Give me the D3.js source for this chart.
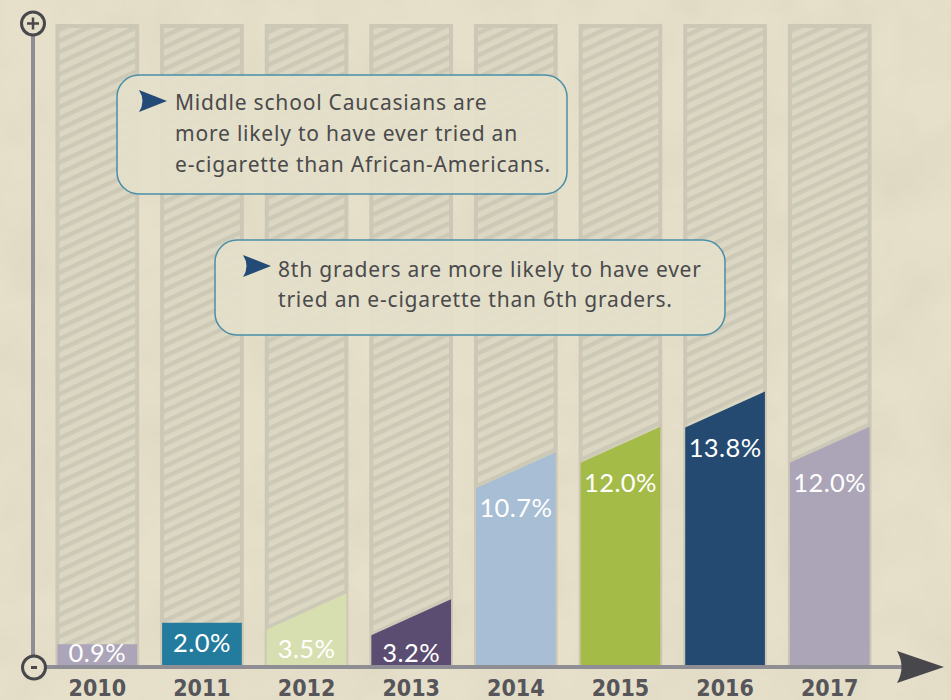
<!DOCTYPE html>
<html>
<head>
<meta charset="utf-8">
<script src="https://cdn.jsdelivr.net/npm/d3@7"></script>
<style>
  html, body { margin: 0; padding: 0; background: #e5dfc9; }
  svg { display: block; }
</style>
</head>
<body>
<div id="chart"></div>
<script>
// data
const years = ["2010", "2011", "2012", "2013", "2014", "2015", "2016", "2017"];
const values = [0.9, 2.0, 3.5, 3.2, 10.7, 12.0, 13.8, 12.0];
const barColors = ["#aca4b8", "#237b9d", "#d7dfb0", "#5b4c72", "#a7bed4", "#a4bb48", "#244a72", "#aca4b7"];
const flatYears = ["2010", "2011"];
const notes = [
    ["Middle school Caucasians are", "more likely to have ever tried an", "e-cigarette than African-Americans."],
    ["8th graders are more likely to have ever", "tried an e-cigarette than 6th graders."]
];

const width = 951, height = 700;
const baseY = 667, topY = 24, slant = 36;

const svg = d3.select("#chart")
    .append("svg")
    .attr("width", width)
    .attr("height", height);

const defs = svg.append("defs");

// paper texture
const paper = defs.append("filter")
    .attr("id", "paper")
    .attr("x", 0).attr("y", 0).attr("width", "100%").attr("height", "100%");
paper.append("feTurbulence")
    .attr("type", "fractalNoise")
    .attr("baseFrequency", 0.015)
    .attr("numOctaves", 3)
    .attr("seed", 4);
paper.append("feColorMatrix")
    .attr("values", "0 0 0 0 0.55  0 0 0 0 0.5  0 0 0 0 0.38  0 0 0 0.35 -0.12");

svg.append("rect")
    .attr("width", width)
    .attr("height", height)
    .attr("fill", "#e6e0cb");

svg.append("rect")
    .attr("width", width)
    .attr("height", height)
    .attr("filter", "url(#paper)");

// hatch pattern for the empty columns
const pat = defs.append("pattern")
    .attr("id", "hatch")
    .attr("patternUnits", "userSpaceOnUse")
    .attr("width", 10)
    .attr("height", 10)
    .attr("patternTransform", "rotate(-25)");
pat.append("rect").attr("width", 10).attr("height", 10).attr("fill", "#dcd7c3");
pat.append("rect").attr("width", 10).attr("height", 4.5).attr("fill", "#cdc9b7");

// scales
const x = d3.scaleBand()
    .domain(years)
    .range([45, 882])
    .paddingInner(0.2)
    .paddingOuter(0.1);

const y = d3.scaleLinear()
    .domain([0, 14])
    .range([662, 387.6]);

// background columns
const cols = svg.append("g").selectAll("g")
    .data(years)
    .join("g");

cols.append("rect")
    .attr("x", d => x(d))
    .attr("y", topY)
    .attr("width", x.bandwidth())
    .attr("height", baseY - topY)
    .attr("fill", "#ccc8b5");

cols.append("rect")
    .attr("x", d => x(d) + 4)
    .attr("y", topY + 4)
    .attr("width", x.bandwidth() - 8)
    .attr("height", baseY - topY - 4)
    .attr("fill", "url(#hatch)");

// coloured bars with slanted tops
const bars = years.map((yr, i) => {
    const x0 = x(yr) + 2, x1 = x(yr) + x.bandwidth() - 2;
    const rightTop = y(values[i]);
    const leftTop = flatYears.includes(yr) ? rightTop : rightTop + slant;
    return {yr, value: values[i], color: barColors[i], x0, x1, leftTop, rightTop};
});

svg.append("g").selectAll("path")
    .data(bars)
    .join("path")
    .attr("d", d => `M${d.x0},${baseY}L${d.x0},${d.leftTop}L${d.x1},${d.rightTop}L${d.x1},${baseY}Z`)
    .attr("fill", d => d.color);

svg.append("g").selectAll("text")
    .data(bars)
    .join("text")
    .attr("x", d => (d.x0 + d.x1) / 2)
    .attr("y", d => Math.min(d.leftTop + 29, 662))
    .attr("text-anchor", "middle")
    .attr("fill", "#ffffff")
    .style("font-family", "Lato, 'Noto Sans', sans-serif")
    .style("font-size", "25.5px")
    .style("letter-spacing", "0.4px")
    .text(d => d.value.toFixed(1) + "%");

// year labels
svg.append("g").selectAll("text")
    .data(years)
    .join("text")
    .attr("x", d => x(d) + x.bandwidth() / 2)
    .attr("y", 696)
    .attr("text-anchor", "middle")
    .attr("fill", "#55555a")
    .style("font-family", "'Liberation Sans Narrow', 'DejaVu Sans Condensed', sans-serif")
    .style("font-weight", "bold")
    .style("font-size", "23px")
    .text(d => d);

// axes
const axisX = 33;
svg.append("line")
    .attr("x1", axisX).attr("x2", axisX)
    .attr("y1", 36).attr("y2", 655)
    .attr("stroke", "#8f8e94")
    .attr("stroke-width", 4);

svg.append("line")
    .attr("x1", 46).attr("x2", 905)
    .attr("y1", baseY).attr("y2", baseY)
    .attr("stroke", "#8f8e94")
    .attr("stroke-width", 4);

svg.append("path")
    .attr("d", "M897,651L944,667L897,683Q906,667 897,651Z")
    .attr("fill", "#47474c");

const plus = svg.append("g").attr("transform", "translate(33,23.5)");
plus.append("circle").attr("r", 11.5).attr("fill", "#e5dfc9").attr("stroke", "#48484c").attr("stroke-width", 3);
plus.append("path").attr("d", "M-6,0H6M0,-6V6").attr("stroke", "#48484c").attr("stroke-width", 2.5);

const minus = svg.append("g").attr("transform", "translate(34,667.5)");
minus.append("circle").attr("r", 11.5).attr("fill", "#e5dfc9").attr("stroke", "#48484c").attr("stroke-width", 3);
minus.append("path").attr("d", "M-3,0H3").attr("stroke", "#48484c").attr("stroke-width", 3);

// callouts
const boxes = [
    {x: 117, y: 75, w: 450, h: 119, tx: 175, ty: 110, lh: 31, ix: 139, iy: 101},
    {x: 215, y: 240, w: 510, h: 95, tx: 278, ty: 277, lh: 29.5, ix: 243, iy: 266}
];

boxes.forEach((b, i) => {
    const g = svg.append("g");
    g.append("rect")
        .attr("x", b.x).attr("y", b.y)
        .attr("width", b.w).attr("height", b.h)
        .attr("rx", 22)
        .attr("fill", "#e4dfca")
        .attr("fill-opacity", 0.92)
        .attr("stroke", "#4a8ea8")
        .attr("stroke-width", 1.5);
    g.append("path")
        .attr("transform", `translate(${b.ix},${b.iy})`)
        .attr("d", "M0,-11L28,0L0,11Q7,0 0,-11Z")
        .attr("fill", "#244b78");
    g.append("text")
        .attr("fill", "#4a4a4c")
        .style("font-family", "'Noto Sans', Lato, sans-serif")
        .style("font-size", "21px")
        .style("letter-spacing", "0.8px")
        .selectAll("tspan")
        .data(notes[i])
        .join("tspan")
        .attr("x", b.tx)
        .attr("y", (d, j) => b.ty + j * b.lh)
        .text(d => d);
});
</script>
</body>
</html>
